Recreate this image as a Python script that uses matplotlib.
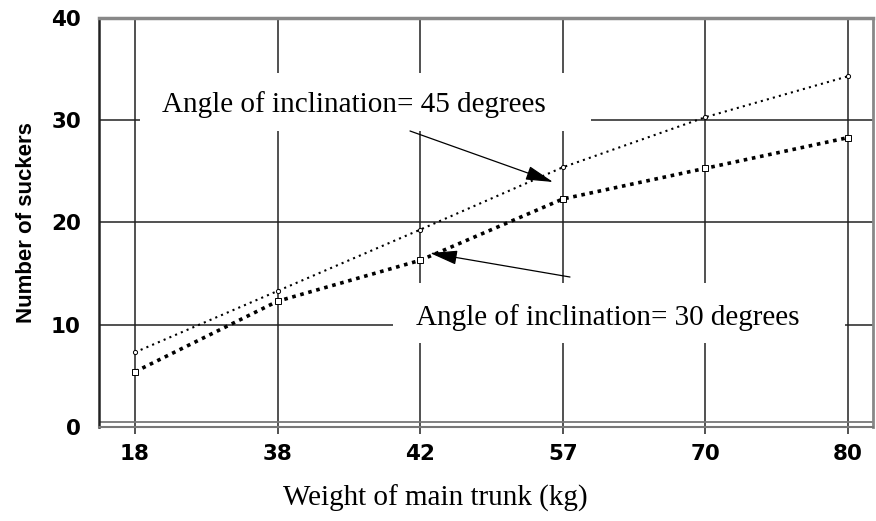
import matplotlib
matplotlib.use('Agg')
import matplotlib.pyplot as plt
from matplotlib.patches import Rectangle

# data
weights = ['18', '38', '42', '57', '70', '80']
suckers_45 = [7.3, 13.3, 19.3, 25.4, 30.3, 34.3]
suckers_30 = [5.4, 12.3, 16.3, 22.3, 25.3, 28.3]
y_ticks = [0, 10, 20, 30, 40]

fig = plt.figure(figsize=(8.76, 5.21), dpi=100)
ax = fig.add_axes([0.113, 0.1804, 0.8836, 0.7851])

x = list(range(len(weights)))

ax.plot(x, suckers_45, color='black', linewidth=1.5, linestyle=(0, (1, 2)),
        marker='o', markersize=3, markerfacecolor='white',
        markeredgewidth=0.7, zorder=3)
ax.plot(x, suckers_30, color='black', linewidth=2.6, linestyle=(0, (1, 1.3)),
        marker='s', markersize=4, markerfacecolor='white',
        markeredgewidth=0.7, zorder=3)

ax.set_xlim(-0.252, 5.175)
ax.set_ylim(0, 40)
ax.set_xticks(x)
ax.set_xticklabels(weights)
ax.set_yticks(y_ticks)

# grid behind the white label boxes
ax.set_axisbelow(True)
ax.grid(True, color='#222222', linewidth=1.1)

for lab in ax.get_xticklabels() + ax.get_yticklabels():
    lab.set_fontfamily('DejaVu Sans')
    lab.set_fontweight('bold')
    lab.set_fontsize(15.5)
ax.tick_params(axis='x', direction='out', length=5, width=1.1,
               color='#222222', pad=7)
ax.tick_params(axis='y', length=0, pad=13)

ax.spines['left'].set_color('#222222')
ax.spines['left'].set_linewidth(1.8)
ax.spines['top'].set_color('#888888')
ax.spines['top'].set_linewidth(2.5)
ax.spines['right'].set_color('#888888')
ax.spines['right'].set_linewidth(2)
ax.spines['bottom'].set_color('#777777')
ax.spines['bottom'].set_linewidth(1.5)
ax.axhline(0.5, color='#777777', linewidth=1.3, zorder=1)

ax.set_ylabel('Number of suckers', fontfamily='Liberation Sans',
              fontweight='bold', fontsize=16, labelpad=10)
ax.set_xlabel('Weight of main trunk (kg)', fontfamily='Liberation Serif',
              fontsize=21, labelpad=15, x=0.435)

# white boxes that hide the grid behind the labels
ax.add_patch(Rectangle((0.053, 0.724), 0.583, 0.142, transform=ax.transAxes,
                       facecolor='white', edgecolor='none', zorder=1.5))
ax.add_patch(Rectangle((0.380, 0.205), 0.584, 0.147, transform=ax.transAxes,
                       facecolor='white', edgecolor='none', zorder=1.5))

ax.text(0.0814, 0.770, 'Angle of inclination= 45 degrees',
        transform=ax.transAxes, fontfamily='Liberation Serif', fontsize=21,
        va='baseline', ha='left', zorder=2)
ax.text(0.4096, 0.249, 'Angle of inclination= 30 degrees',
        transform=ax.transAxes, fontfamily='Liberation Serif', fontsize=21,
        va='baseline', ha='left', zorder=2)

arrow = dict(arrowstyle='-|>,head_length=0.85,head_width=0.22',
             color='black', linewidth=0.9, mutation_scale=20,
             shrinkA=0, shrinkB=0)
ax.annotate('', xy=(0.5866, 0.599), xytext=(0.4018, 0.7237),
            xycoords='axes fraction', textcoords='axes fraction',
            arrowprops=arrow, zorder=4)
ax.annotate('', xy=(0.4276, 0.4254), xytext=(0.6085, 0.3667),
            xycoords='axes fraction', textcoords='axes fraction',
            arrowprops=arrow, zorder=4)

fig.savefig('out.png', dpi=100)
